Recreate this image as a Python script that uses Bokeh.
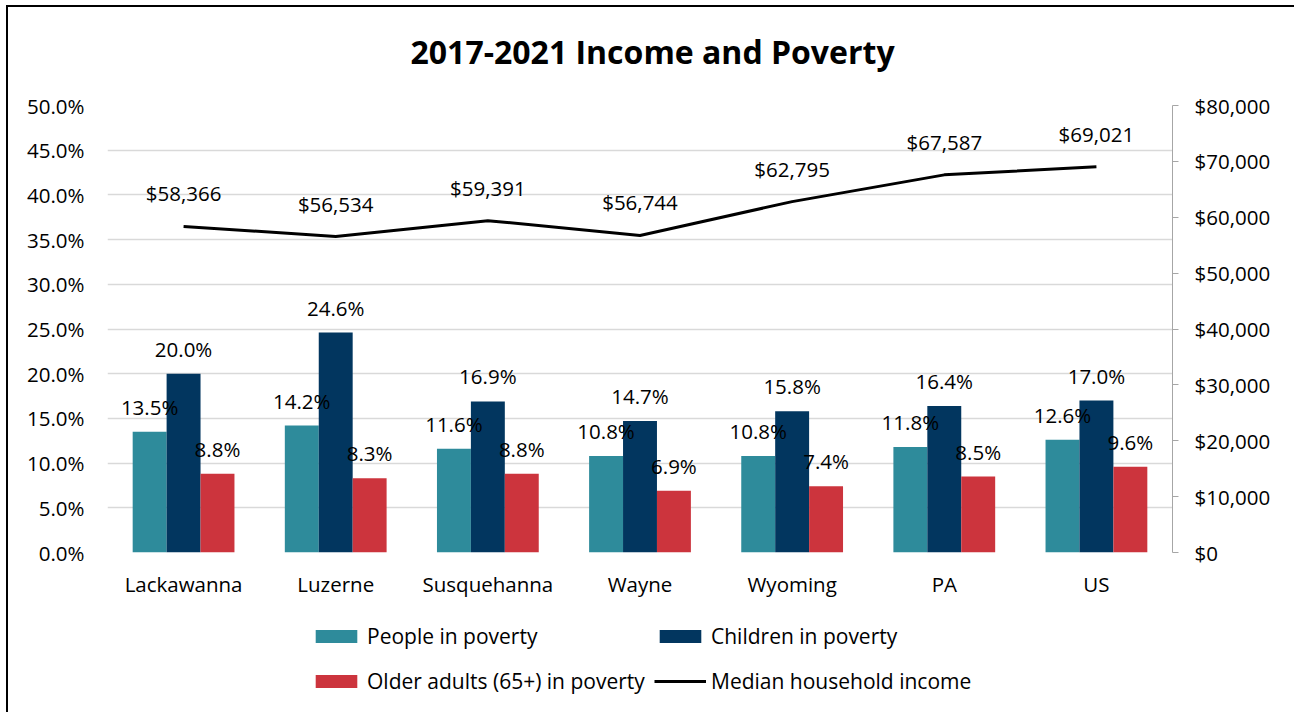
from bokeh.plotting import figure
from bokeh.layouts import column
from bokeh.models import (ColumnDataSource, LinearAxis, Range1d, FixedTicker,
                          PrintfTickFormatter, NumeralTickFormatter, LabelSet,
                          Legend, LegendItem, Title, FactorRange)
from bokeh.transform import dodge
from bokeh.core.properties import value
from bokeh.embed import file_html
from bokeh.resources import INLINE

# ---- data ----
counties = ["Lackawanna", "Luzerne", "Susquehanna", "Wayne", "Wyoming", "PA", "US"]
people_pct = [13.5, 14.2, 11.6, 10.8, 10.8, 11.8, 12.6]
children_pct = [20.0, 24.6, 16.9, 14.7, 15.8, 16.4, 17.0]
older_pct = [8.8, 8.3, 8.8, 6.9, 7.4, 8.5, 9.6]
median_income = [58366, 56534, 59391, 56744, 62795, 67587, 69021]
pct_ticks = [0, 5, 10, 15, 20, 25, 30, 35, 40, 45, 50]
usd_ticks = [0, 10000, 20000, 30000, 40000, 50000, 60000, 70000, 80000]
series_names = ["People in poverty", "Children in poverty",
                "Older adults (65+) in poverty", "Median household income"]
title_text = "2017-2021 Income and Poverty"

FONT = "Open Sans"
FS = "20.5px"
TEAL = "#2E8B9B"
NAVY = "#02365F"
RED = "#CC343D"

src = ColumnDataSource(dict(
    county=counties,
    people=people_pct,
    children=children_pct,
    older=older_pct,
    income=median_income,
    people_lbl=[f"{v:.1f}%" for v in people_pct],
    children_lbl=[f"{v:.1f}%" for v in children_pct],
    older_lbl=[f"{v:.1f}%" for v in older_pct],
    income_lbl=[f"${v:,}" for v in median_income],
))

p = figure(x_range=counties, y_range=Range1d(0, 50), width=1286, height=593,
           output_backend="svg", toolbar_location=None,
           min_border_left=99, min_border_right=122, min_border_top=98,
           min_border_bottom=48)
p.extra_y_ranges = {"usd": Range1d(0, 80000)}
p.outline_line_color = None

p.title.text = title_text
p.title.align = "left"
p.title.offset = 303
p.title.text_font = FONT
p.title.text_font_size = "32px"
p.title.text_font_style = "bold"
p.title.text_color = "black"
p.title.standoff = 8
# blank spacer between the title and the plot area
p.add_layout(Title(text=" ", text_font_size="10px", standoff=16), "above")

BW = 0.223
p.vbar(x=dodge("county", -BW, range=p.x_range), top="people", width=BW,
       source=src, fill_color=TEAL, line_color=None)
p.vbar(x=dodge("county", 0, range=p.x_range), top="children", width=BW,
       source=src, fill_color=NAVY, line_color=None)
p.vbar(x=dodge("county", BW, range=p.x_range), top="older", width=BW,
       source=src, fill_color=RED, line_color=None)
p.line(x="county", y="income", source=src, y_range_name="usd",
       line_color="black", line_width=3)

for off, col, lbl in [(-BW, "people", "people_lbl"), (0, "children", "children_lbl"),
                      (BW, "older", "older_lbl")]:
    p.add_layout(LabelSet(x=dodge("county", off, range=p.x_range), y=col, text=lbl,
                          source=src, y_offset=25, text_align="center",
                          text_baseline="middle", text_font=value(FONT),
                          text_font_size=value(FS), text_color="black"))
p.add_layout(LabelSet(x="county", y="income", text="income_lbl", source=src,
                      y_range_name="usd", y_offset=33, text_align="center",
                      text_baseline="middle", text_font=value(FONT),
                      text_font_size=value(FS), text_color="black"))

# left axis
ya = p.yaxis[0]
ya.ticker = FixedTicker(ticks=pct_ticks)
ya.formatter = PrintfTickFormatter(format="%.1f%%")
ya.axis_line_color = None
ya.major_tick_line_color = None
ya.major_tick_out = 0
ya.major_tick_in = 0
ya.minor_tick_line_color = None
ya.major_label_standoff = 23
ya.major_label_text_font = FONT
ya.major_label_text_font_size = FS
ya.major_label_text_color = "black"

# right axis
ra = LinearAxis(y_range_name="usd", ticker=FixedTicker(ticks=usd_ticks),
                formatter=NumeralTickFormatter(format="$0,0"))
ra.axis_line_color = "#a6a6a6"
ra.major_tick_line_color = "#a6a6a6"
ra.major_tick_out = 6
ra.major_tick_in = 0
ra.minor_tick_line_color = None
ra.major_label_standoff = 16
ra.major_label_text_font = FONT
ra.major_label_text_font_size = FS
ra.major_label_text_color = "black"
p.add_layout(ra, "right")

xa = p.xaxis[0]
xa.axis_line_color = None
xa.major_tick_line_color = None
xa.major_tick_out = 0
xa.major_tick_in = 0
xa.minor_tick_line_color = None
xa.major_label_standoff = 17
xa.major_label_text_font = FONT
xa.major_label_text_font_size = FS
xa.major_label_text_color = "black"

p.xgrid.grid_line_color = None
p.ygrid.grid_line_color = "#d9d9d9"
p.ygrid.grid_line_width = 1.5

# ---- legend strip: same series, plotted outside its visible range,
# used only as legend keys ----
lf = figure(width=1286, height=112, x_range=FactorRange(factors=counties),
            y_range=Range1d(1000000, 1000001),
            output_backend="svg", toolbar_location=None, min_border=0)
lf.axis.visible = False
lf.grid.grid_line_color = None
lf.outline_line_color = None
k1 = lf.vbar(x="county", top="people", width=BW, source=src,
             fill_color=TEAL, line_color=None)
k2 = lf.vbar(x="county", top="children", width=BW, source=src,
             fill_color=NAVY, line_color=None)
k3 = lf.vbar(x="county", top="older", width=BW, source=src,
             fill_color=RED, line_color=None)
k4 = lf.line(x="county", y="income", source=src, line_color="black", line_width=3)

legend = Legend(items=[LegendItem(label=n, renderers=[r])
                       for n, r in zip(series_names, [k1, k2, k3, k4])],
                orientation="horizontal", ncols=2, location=(203, 12))
legend.glyph_width = 52
legend.glyph_height = 16
legend.label_standoff = 5
legend.label_width = 280
legend.spacing = 7
legend.label_height = 38
legend.padding = 0
legend.margin = 0
legend.border_line_color = None
legend.background_fill_alpha = 0
legend.label_text_font = FONT
legend.label_text_font_size = "21px"
legend.label_text_color = "black"
lf.add_layout(legend, "center")

layout = column(p, lf, spacing=0,
                styles={"outline": "2px solid black", "margin-left": "8px",
                        "margin-top": "7px"})

open("out.html", "w").write(file_html(layout, INLINE))
